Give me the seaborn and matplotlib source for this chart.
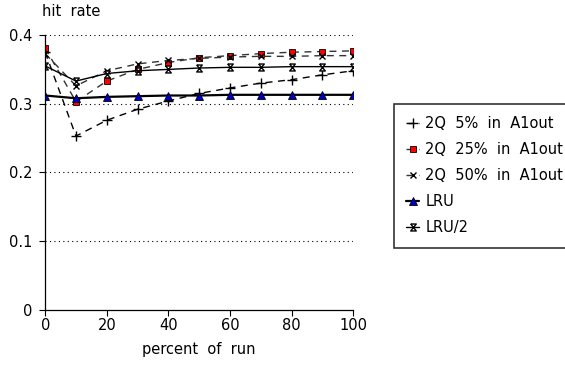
import numpy as np
import matplotlib
matplotlib.use("Agg")
import matplotlib.pyplot as plt
import pandas as pd
import seaborn as sns

# values
percent = [0, 10, 20, 30, 40, 50, 60, 70, 80, 90, 100]
q2_5 = [0.375, 0.253, 0.276, 0.292, 0.304, 0.315, 0.323, 0.330, 0.335, 0.342, 0.348]
q2_25 = [0.381, 0.303, 0.333, 0.350, 0.360, 0.367, 0.370, 0.373, 0.375, 0.376, 0.377]
q2_50 = [0.373, 0.326, 0.348, 0.358, 0.363, 0.366, 0.368, 0.369, 0.369, 0.370, 0.370]
lru = [0.312, 0.308, 0.310, 0.311, 0.312, 0.312, 0.313, 0.313, 0.313, 0.313, 0.313]
lru2 = [0.355, 0.333, 0.344, 0.348, 0.350, 0.352, 0.353, 0.353, 0.354, 0.354, 0.354]
names = ["2Q  5%  in  A1out", "2Q  25%  in  A1out", "2Q  50%  in  A1out", "LRU", "LRU/2"]

sns.set_style("ticks")
plt.rcParams['font.family'] = ['DejaVu Sans']
plt.rcParams['text.color'] = 'black'

fig = plt.figure(figsize=(5.65, 3.65), dpi=100)
ax = fig.add_axes([0.08, 0.151, 0.545, 0.753])

# hourglass marker for LRU/2
hourglass = [(-0.8, 1), (0.8, 1), (-0.8, -1), (0.8, -1), (-0.8, 1)]
dash = (0, (5, 4))

styles = [
    dict(marker="+", color="black", linestyle=dash, markersize=7, markeredgecolor="black", markeredgewidth=1.0),
    dict(marker="s", color="#333333", linestyle=dash, markersize=4.5, markerfacecolor="red", markeredgecolor="black", markeredgewidth=0.6),
    dict(marker="x", color="#333333", linestyle=dash, markersize=5, markeredgecolor="black", markeredgewidth=1.0),
    dict(marker="^", color="black", linestyle="-", markersize=6, markerfacecolor="#0000cc", markeredgecolor="black", markeredgewidth=0.6),
    dict(marker=hourglass, color="black", linestyle="-", markersize=5, markerfacecolor="white", markeredgecolor="black", markeredgewidth=1.0),
]
widths = [1.0, 1.0, 1.0, 1.6, 1.0]

for ys, name, st, lw in zip([q2_5, q2_25, q2_50, lru, lru2], names, styles, widths):
    sns.lineplot(x=percent, y=ys, ax=ax, label=name, linewidth=lw, **st)

ax.set_xlim(0, 100)
ax.set_ylim(0, 0.4)
ax.set_xticks([0, 20, 40, 60, 80, 100])
ax.set_yticks([0, 0.1, 0.2, 0.3, 0.4])
ax.set_yticklabels(["0", "0.1", "0.2", "0.3", "0.4"])
for g in [0.1, 0.2, 0.3, 0.4]:
    ax.axhline(g, color="black", linestyle=(0, (1, 3)), linewidth=0.8, zorder=0)
ax.tick_params(axis="both", labelsize=10.5, length=4, width=0.8, direction="out",
               colors="black", labelcolor="black")
ax.tick_params(axis="x", pad=1.5)
ax.tick_params(axis="y", pad=5)
for s in ["top", "right"]:
    ax.spines[s].set_visible(False)
for s in ["left", "bottom"]:
    ax.spines[s].set_linewidth(0.9)
    ax.spines[s].set_color("black")

ax.set_xlabel("percent  of  run", fontsize=10.5, labelpad=7, color="black")
ax.set_ylabel("")
fig.text(0.126, 0.988, "hit  rate", fontsize=10.5, ha="center", va="top", color="black")

leg = ax.legend(loc="upper left", bbox_to_anchor=(0.697, 0.715, 0.35, 0.0),
                bbox_transform=fig.transFigure, mode="expand",
                fontsize=10.5, frameon=True, fancybox=False, shadow=False,
                handlelength=0.9, handletextpad=0.4, labelspacing=0.75,
                borderpad=0.85, borderaxespad=0)
leg.get_frame().set_edgecolor("black")
leg.get_frame().set_linewidth(1.2)
for t in leg.get_texts():
    t.set_color("black")

fig.savefig("out.png", dpi=100)
